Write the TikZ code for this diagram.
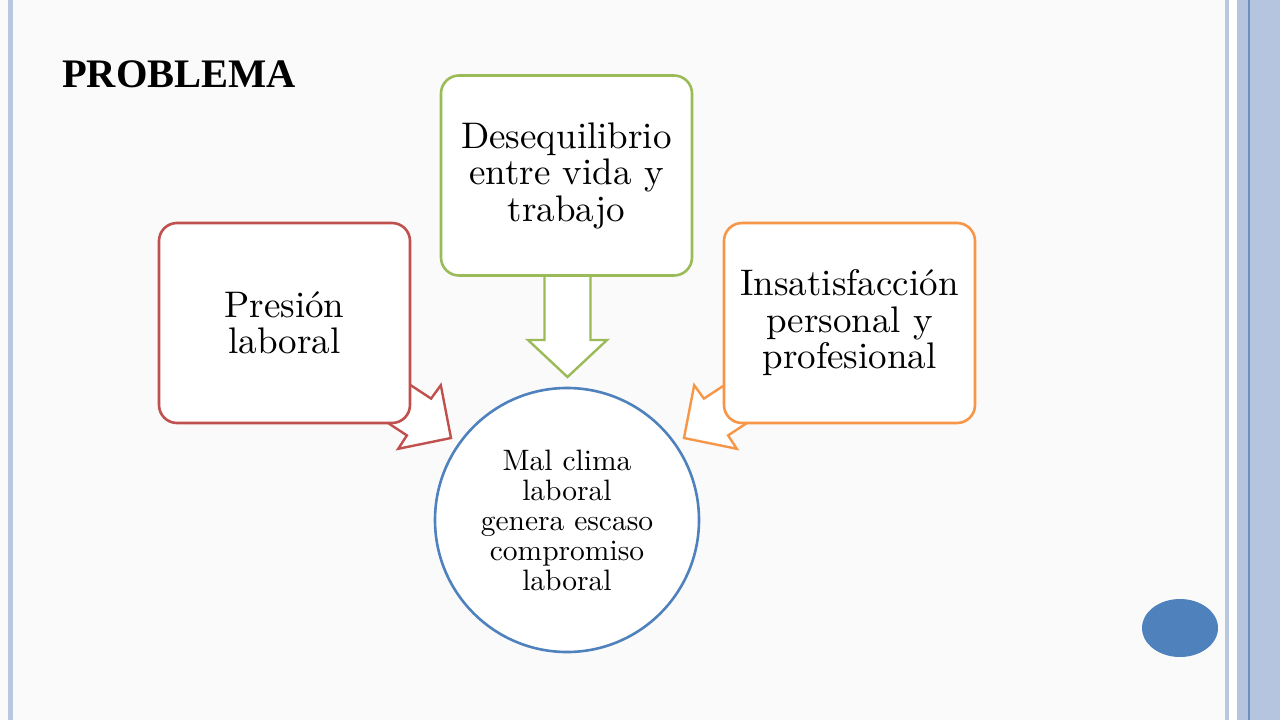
\documentclass[tikz,border=0pt]{standalone}
\usepackage{fontspec}
\setmainfont{lmroman10}[Extension=.otf, UprightFont=*-regular, BoldFont=*-bold, ItalicFont=*-italic, BoldItalicFont=*-bolditalic]
\newfontfamily\titlefont{Liberation Serif}
\usetikzlibrary{calc}
\definecolor{bgcol}{HTML}{FAFAFA}
\definecolor{linecol}{HTML}{B9C8E0}
\definecolor{bandcol}{HTML}{B6C5DF}
\definecolor{darkline}{HTML}{6F8EC0}
\definecolor{redc}{HTML}{C0504D}
\definecolor{greenc}{HTML}{9BBB59}
\definecolor{orangec}{HTML}{F79646}
\definecolor{bluec}{HTML}{4F81BD}
\tikzset{
  box/.style={draw, rounded corners=18pt, line width=2.6pt, fill=white,
    minimum width=251pt, minimum height=200pt, align=center, inner sep=0pt,
    font=\fontsize{37}{36.5}\selectfont},
  blockarrow/.style={line width=2.4pt, fill=white, line join=miter},
}
\begin{document}
\begin{tikzpicture}[x=1pt,y=-1pt]
\useasboundingbox (0,0) rectangle (1280,720);
\fill[bgcol] (0,0) rectangle (1280,720);
% side decorations
\fill[linecol] (8,0) rectangle (13,720);
\fill[linecol] (1225,0) rectangle (1229,720);
\fill[white] (1229,0) rectangle (1237,720);
\fill[bandcol] (1237,0) rectangle (1280,720);
\fill[darkline] (1248,0) rectangle (1249.6,720);
% title
\node[anchor=base west, inner sep=0pt, font=\titlefont\bfseries\fontsize{40.5}{42}\selectfont] (title) at (62,87) {PROBLEMA};
% block arrows (behind boxes)
\draw[blockarrow, draw=redc] (364.1,354.6) -- (431.1,398.6) -- (440.8,385.2) -- (451,438) -- (398.2,448.8) -- (406.9,435.4) -- (340,391.4) -- cycle;
\draw[blockarrow, draw=orangec] (770.9,354.6) -- (703.9,398.6) -- (694.2,385.2) -- (684,438) -- (736.8,448.8) -- (728.1,435.4) -- (795,391.4) -- cycle;
\draw[blockarrow, draw=greenc] (544.5,250) -- (544.5,340) -- (528,340) -- (567.5,377) -- (607,340) -- (590.5,340) -- (590.5,250) -- cycle;
% boxes
\node[box, draw=redc] (pres) at (284.5,323) {Presión\\laboral};
\node[box, draw=greenc] (deseq) at (566.5,175.5) {Desequilibrio\\entre vida y\\trabajo};
\node[box, draw=orangec] (insat) at (849.5,323) {Insatisfacción\\personal y\\profesional};
% circle
\node[circle, draw=bluec, line width=2.6pt, fill=white, minimum size=264pt, align=center, inner sep=0pt,
  font=\fontsize{29.5}{30}\selectfont] (mal) at (567,520) {Mal clima\\laboral\\genera escaso\\compromiso\\laboral};
% bottom-right ellipse
\fill[bluec] (1180,628) ellipse [x radius=38pt, y radius=29pt];
\end{tikzpicture}
\end{document}
